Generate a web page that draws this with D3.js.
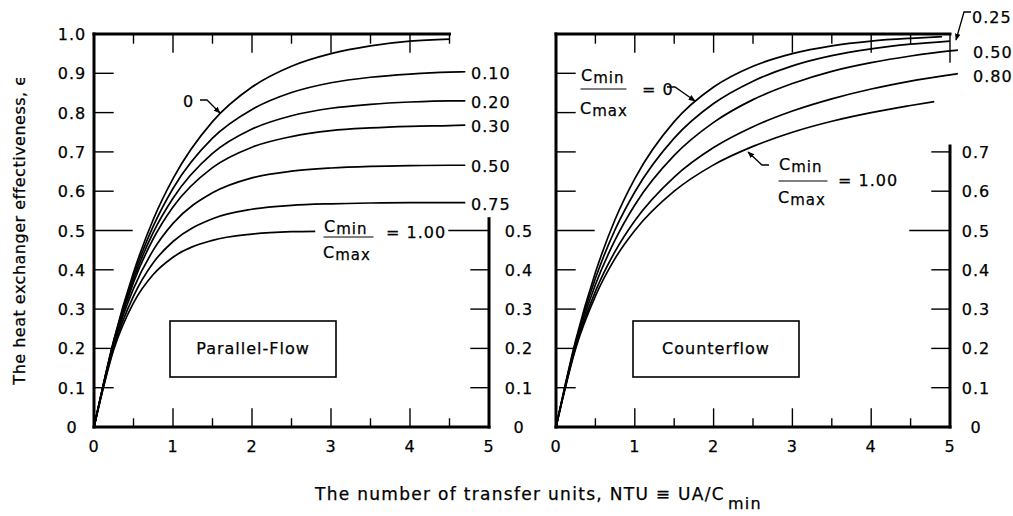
<!DOCTYPE html>
<html><head><meta charset="utf-8">
<script src="https://cdn.jsdelivr.net/npm/d3@7"></script>
<style>
html,body{margin:0;padding:0;background:#fff;}
svg{display:block;font-family:"DejaVu Sans",sans-serif;}
text{fill:#000;stroke:#000;stroke-width:0.25px;}
</style></head><body>
<svg id="chart" width="1013" height="516"></svg>
<script>
// ---------- data ----------
const ntuTicks = [0, 1, 2, 3, 4, 5];
const ntuTickLabels = ["0", "1", "2", "3", "4", "5"];
const epsTicks = [0, 0.1, 0.2, 0.3, 0.4, 0.5, 0.6, 0.7, 0.8, 0.9, 1.0];
const epsTickLabels = ["0", "0.1", "0.2", "0.3", "0.4", "0.5", "0.6", "0.7", "0.8", "0.9", "1.0"];

// Parallel-flow curves: [NTU, effectiveness]
const parallelRatios = ["0", "0.10", "0.20", "0.30", "0.50", "0.75", "1.00"];
const pf_000 = [[0,0],[0.25,0.221],[0.5,0.393],[0.75,0.528],[1,0.632],[1.5,0.777],[2,0.865],[2.5,0.918],[3,0.950],[3.5,0.970],[4,0.982],[4.5,0.987]];
const pf_010 = [[0,0],[0.25,0.219],[0.5,0.385],[0.75,0.511],[1,0.607],[1.5,0.735],[2,0.808],[2.5,0.851],[3,0.876],[3.5,0.890],[4,0.898],[4.5,0.903],[4.7,0.904]];
const pf_020 = [[0,0],[0.25,0.216],[0.5,0.376],[0.75,0.495],[1,0.582],[1.5,0.696],[2,0.758],[2.5,0.792],[3,0.811],[3.5,0.821],[4,0.827],[4.5,0.830],[4.7,0.830]];
const pf_030 = [[0,0],[0.25,0.214],[0.5,0.368],[0.75,0.479],[1,0.560],[1.5,0.660],[2,0.712],[2.5,0.739],[3,0.754],[3.5,0.761],[4,0.765],[4.5,0.767],[4.7,0.768]];
const pf_050 = [[0,0],[0.25,0.209],[0.5,0.352],[0.75,0.450],[1,0.518],[1.5,0.596],[2,0.634],[2.5,0.651],[3,0.659],[3.5,0.663],[4,0.665],[4.5,0.666],[4.7,0.666]];
const pf_075 = [[0,0],[0.25,0.203],[0.5,0.333],[0.75,0.418],[1,0.472],[1.5,0.530],[2,0.554],[2.5,0.564],[3,0.568],[3.5,0.570],[4,0.571],[4.5,0.571],[4.7,0.571]];
const pf_100 = [[0,0],[0.25,0.197],[0.5,0.316],[0.75,0.388],[1,0.432],[1.5,0.475],[2,0.491],[2.5,0.497],[2.8,0.498]];
const parallelSeries = [pf_000, pf_010, pf_020, pf_030, pf_050, pf_075, pf_100];

// Counterflow curves: [NTU, effectiveness]
const counterRatios = ["0", "0.25", "0.50", "0.80", "1.00"];
const cf_000 = [[0,0],[0.25,0.221],[0.5,0.393],[0.75,0.528],[1,0.632],[1.5,0.777],[2,0.865],[2.5,0.918],[3,0.950],[3.5,0.970],[4,0.982],[4.5,0.989],[4.9,0.993]];
const cf_025 = [[0,0],[0.25,0.216],[0.5,0.378],[0.75,0.502],[1,0.598],[1.5,0.735],[2,0.823],[2.5,0.880],[3,0.919],[3.5,0.945],[4,0.962],[4.5,0.974],[5,0.982]];
const cf_050 = [[0,0],[0.25,0.210],[0.5,0.362],[0.75,0.476],[1,0.565],[1.5,0.691],[2,0.775],[2.5,0.833],[3,0.874],[3.5,0.905],[4,0.927],[4.5,0.944],[5,0.957],[5.1,0.959]];
const cf_080 = [[0,0],[0.25,0.204],[0.5,0.345],[0.75,0.447],[1,0.525],[1.5,0.636],[2,0.711],[2.5,0.764],[3,0.804],[3.5,0.835],[4,0.860],[4.5,0.880],[5,0.896],[5.1,0.899]];
const cf_100 = [[0,0],[0.25,0.200],[0.5,0.333],[0.75,0.429],[1,0.500],[1.5,0.600],[2,0.667],[2.5,0.714],[3,0.750],[3.5,0.778],[4,0.800],[4.5,0.818],[4.8,0.828]];
const counterSeries = [cf_000, cf_025, cf_050, cf_080, cf_100];

// ---------- layout ----------
const svg = d3.select("#chart");
const FS = 16;
const y = d3.scaleLinear().domain([0, 1]).range([427, 34]);
const xL = d3.scaleLinear().domain([0, 5]).range([94, 489]);
const xR = d3.scaleLinear().domain([0, 5]).range([556, 950]);
const AX = 3;

const defs = svg.append("defs");
defs.append("marker").attr("id", "arr").attr("viewBox", "0 0 10 10")
  .attr("refX", 9).attr("refY", 5).attr("markerWidth", 7).attr("markerHeight", 7)
  .attr("orient", "auto").attr("markerUnits", "userSpaceOnUse")
  .append("path").attr("d", "M0,1 L10,5 L0,9 Z").attr("fill", "#000");

function line(g, x1, y1, x2, y2, w) {
  g.append("line").attr("x1", x1).attr("y1", y1).attr("x2", x2).attr("y2", y2)
    .attr("stroke", "#000").attr("stroke-width", w).attr("stroke-linecap", "square");
}
function txt(g, x, yy, s, anchor) {
  return g.append("text").attr("x", x).attr("y", yy).attr("font-size", FS)
    .attr("letter-spacing", 1).attr("text-anchor", anchor || "start").text(s);
}

function panel(x, topEnd, rightTop, rightTickMax, rightLabelX, rightLabelCount, series, leftLabels) {
  const g = svg.append("g");
  const x0 = x(0), x5 = x(5);
  // frame
  line(g, x0, y(0), x0, y(1), AX);
  line(g, x0, y(1), x(topEnd), y(1), AX);
  line(g, x0, y(0), x5, y(0), AX);
  line(g, x5, y(0), x5, y(rightTop), AX);
  // left ticks
  epsTicks.filter(v => v > 0 && v < 1).forEach(v => {
    line(g, x0, y(v), x0 + (Math.abs(v - 0.5) < 1e-9 ? 38 : 19), y(v), 1.4);
  });
  // right ticks
  epsTicks.filter(v => v > 0 && v <= rightTickMax + 1e-9).forEach(v => {
    line(g, x5 - (Math.abs(v - 0.5) < 1e-9 ? 40 : 18), y(v), x5, y(v), 1.4);
  });
  // top & bottom ticks
  d3.range(1, 10).map(i => i / 2).forEach(v => {
    const major = Number.isInteger(v);
    line(g, x(v), y(0), x(v), y(0) - (major ? 18 : 8), 1.4);
    if (v <= topEnd) line(g, x(v), y(1), x(v), y(1) + (major ? 18 : 9), 1.4);
  });
  // x tick labels
  ntuTicks.forEach((v, i) => txt(g, x(v), 452, ntuTickLabels[i], "middle"));
  // right-axis labels
  epsTicks.slice(0, rightLabelCount).forEach((v, i) =>
    txt(g, rightLabelX, y(v) + 6, epsTickLabels[i], "middle"));
  if (leftLabels) epsTicks.forEach((v, i) => txt(g, 72, y(v) + 6, epsTickLabels[i], "middle"));
  // curves
  const gen = d3.line().x(d => x(d[0])).y(d => y(d[1])).curve(d3.curveMonotoneX);
  series.forEach(s => g.append("path").attr("d", gen(s)).attr("fill", "none")
    .attr("stroke", "#000").attr("stroke-width", 1.7));
  return g;
}

const gL = panel(xL, 4.5, 0.53, 0.5, 519, 6, parallelSeries, true);
const gR = panel(xR, 5, 0.715, 0.7, 976, 8, counterSeries, false);
// extra long tick at the right end of the counterflow top border
line(gR, xR(5), y(1), xR(5), y(1) + 28, 1.4);

// curve end labels (parallel flow)
[1, 2, 3, 4, 5].forEach(i => {
  const s = parallelSeries[i], last = s[s.length - 1];
  txt(gL, 471, y(last[1]) + 7, parallelRatios[i]);
});
// counterflow end labels
[2, 3].forEach(i => {
  const s = counterSeries[i], last = s[s.length - 1];
  txt(gR, 973, y(last[1]) + 8, counterRatios[i]);
});
txt(gR, 972, 23, counterRatios[1]);
gR.append("path").attr("d", "M971,12 L964,12 L956,40").attr("fill", "none")
  .attr("stroke", "#000").attr("stroke-width", 1.3).attr("marker-end", "url(#arr)");

// fraction labels
function fraction(g, x, lineY, w, numB, denB) {
  const t1 = g.append("text").attr("x", x).attr("y", numB).attr("font-size", FS).attr("letter-spacing", 1);
  t1.append("tspan").text("C");
  t1.append("tspan").attr("font-size", 15).attr("dy", 2).text("min");
  line(g, x, lineY, x + w, lineY, 1);
  const t2 = g.append("text").attr("x", x - 1).attr("y", denB).attr("font-size", FS).attr("letter-spacing", 1);
  t2.append("tspan").text("C");
  t2.append("tspan").attr("font-size", 15).attr("dy", 2).text("max");
}
// parallel flow C=1.00
fraction(gL, 324, 237, 49, 232, 258);
txt(gL, 386, 238, "= " + parallelRatios[6]);
// parallel flow C=0
txt(gL, 183, 107, parallelRatios[0]);
gL.append("path").attr("d", "M200,100 L207,100 L220,113").attr("fill", "none")
  .attr("stroke", "#000").attr("stroke-width", 1.3).attr("marker-end", "url(#arr)");

// counterflow C=0
fraction(gR, 581, 89, 45, 81, 114);
txt(gR, 642, 95, "= " + counterRatios[0]);
gR.append("path").attr("d", "M667,87 L675,87 L695,101").attr("fill", "none")
  .attr("stroke", "#000").attr("stroke-width", 1.3).attr("marker-end", "url(#arr)");
// counterflow C=1.00
fraction(gR, 779, 181, 48, 170, 203);
txt(gR, 838, 186, "= " + counterRatios[4]);
gR.append("path").attr("d", "M769,165 L762,165 L748,152").attr("fill", "none")
  .attr("stroke", "#000").attr("stroke-width", 1.3).attr("marker-end", "url(#arr)");

// flow-type boxes
[[gL, 170, "Parallel-Flow"], [gR, 633, "Counterflow"]].forEach(([g, bx, label]) => {
  g.append("rect").attr("x", bx).attr("y", 321).attr("width", 166).attr("height", 56)
    .attr("fill", "none").attr("stroke", "#000").attr("stroke-width", 1.6);
  txt(g, bx + 83, 354, label, "middle");
});

// axis titles
const xt = svg.append("text").attr("x", 315).attr("y", 500).attr("font-size", 17)
  .attr("letter-spacing", 1.3);
xt.append("tspan").text("The number of transfer units, NTU \u2261 UA/C");
xt.append("tspan").attr("dy", 9).attr("dx", 3).attr("font-size", 16).text("min");

svg.append("text").attr("transform", "translate(25,230) rotate(-90)")
  .attr("text-anchor", "middle").attr("font-size", FS).attr("letter-spacing", 0.5)
  .text("The heat exchanger effectiveness, \u03F5");
</script>
</body></html>
